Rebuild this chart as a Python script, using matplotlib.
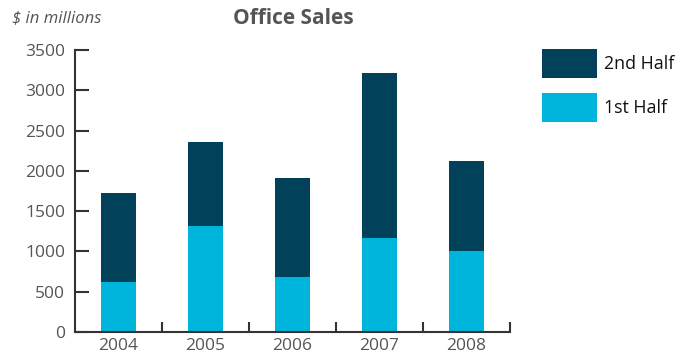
import numpy as np
import matplotlib.pyplot as plt
from matplotlib.ticker import FixedLocator

years = ['2004', '2005', '2006', '2007', '2008']
first_half = [620, 1315, 685, 1170, 1010]
second_half = [1105, 1040, 1225, 2045, 1110]

dark = '#01415a'
light = '#00b5dc'
grey = '#555555'

plt.rcParams['font.family'] = ['Open Sans', 'DejaVu Sans']

fig = plt.figure(figsize=(6.91, 3.58), dpi=100)
ax = fig.add_axes([75/691, 1 - 332/358, 435/691, 282/358])

x = np.arange(len(years))
ax.bar(x, first_half, width=0.4, color=light, label='1st Half')
ax.bar(x, second_half, width=0.4, bottom=first_half, color=dark, label='2nd Half')

ax.set_xlim(-0.5, len(years) - 0.5)
ax.set_ylim(0, 3500)
ax.set_yticks(np.arange(0, 3501, 500))
ax.set_xticks(x)
ax.set_xticklabels(years)
ax.xaxis.set_minor_locator(FixedLocator(x + 0.5))

for s in ['top', 'right']:
    ax.spines[s].set_visible(False)
for s in ['left', 'bottom']:
    ax.spines[s].set_color('#333333')
    ax.spines[s].set_linewidth(1.5)

ax.tick_params(axis='y', direction='in', length=10, width=1.5, color='#333333',
               pad=7, labelsize=12.5, labelcolor=grey)
ax.tick_params(axis='x', which='major', length=0, pad=4, labelsize=12.5, labelcolor=grey)
ax.tick_params(axis='x', which='minor', direction='in', length=7, width=1.5, color='#333333')

fig.text(293/691, 1 - 18/358, 'Office Sales', fontsize=15, fontweight='bold',
         color=grey, va='center', ha='center')
fig.text(12/691, 1 - 18/358, '$ in millions', fontsize=12, style='italic',
         color=grey, va='center', ha='left')

handles, labels = ax.get_legend_handles_labels()
leg = fig.legend(handles[::-1], labels[::-1], loc='upper left',
                 bbox_to_anchor=(542/691, 1 - 49/358), frameon=False,
                 borderaxespad=0, borderpad=0,
                 fontsize=12.8, handlelength=3.1, handleheight=2.13,
                 labelspacing=0.85, handletextpad=0.4)
for t in leg.get_texts():
    t.set_color('#111111')

fig.savefig('out.png', dpi=100)
